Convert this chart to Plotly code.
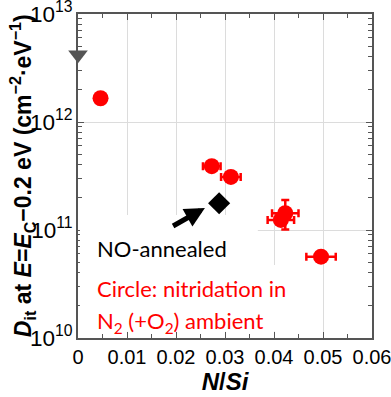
import math
import plotly.graph_objects as go

# Data
circle_x = [0.0046, 0.0273, 0.0312, 0.0423, 0.0414, 0.0496]
circle_y = [1.66e12, 3.9e11, 3.1e11, 1.43e11, 1.24e11, 5.66e10]
circle_xerr = [0.0, 0.0018, 0.002, 0.0027, 0.0027, 0.003]
circle_yerr_plus = [0, 0, 0, 0.47e11, 0, 0]
circle_yerr_minus = [0, 0, 0, 0.42e11, 0, 0]

tri_x = [0.0]
tri_y = [4.2e12]

diamond_x = [0.0288]
diamond_y = [1.77e11]

x_ticks = [0, 0.01, 0.02, 0.03, 0.04, 0.05, 0.06]
x_ticklabels = ["0", "0.01", "0.02", "0.03", "0.04", "0.05", "0.06"]

RED = "#ff0000"
AXC = "#555555"
TFONT = "Liberation Sans"
AFONT = "Lato"

fig = go.Figure()

fig.add_trace(go.Scatter(
    x=circle_x, y=circle_y, mode="markers",
    marker=dict(symbol="circle", size=16, color=RED),
    error_x=dict(type="data", array=circle_xerr, color=RED, thickness=2.5, width=4),
    error_y=dict(type="data", symmetric=False, array=circle_yerr_plus,
                 arrayminus=circle_yerr_minus, color=RED, thickness=2.5, width=4),
    cliponaxis=False, showlegend=False))

fig.add_trace(go.Scatter(
    x=tri_x, y=tri_y, mode="markers",
    marker=dict(symbol="triangle-down", size=17, color="#555555"),
    cliponaxis=False, showlegend=False))

fig.add_trace(go.Scatter(
    x=diamond_x, y=diamond_y, mode="markers",
    marker=dict(symbol="diamond", size=17, color="black"),
    cliponaxis=False, showlegend=False))

# white boxes behind the text (hiding gridlines)
fig.add_shape(type="rect", xref="x", yref="y domain", x0=0.0004, x1=0.0367, y0=0.02, y1=0.38,
              fillcolor="white", line_width=0, layer="above")
fig.add_shape(type="rect", xref="x", yref="y domain", x0=0.0004, x1=0.045, y0=0.02, y1=0.225,
              fillcolor="white", line_width=0, layer="above")

# arrow
fig.add_annotation(x=0.0259, y=math.log10(1.6e11), ax=0.0191, ay=math.log10(1.07e11),
                   xref="x", yref="y", axref="x", ayref="y", text="",
                   showarrow=True, arrowhead=2, arrowsize=0.8, arrowwidth=5,
                   arrowcolor="black", standoff=0)

fig.add_annotation(x=0.0035, y=10.833, xref="x", yref="y", text="NO-annealed",
                   showarrow=False, xanchor="left", yanchor="middle",
                   font=dict(family=AFONT, size=22, color="black"))
fig.add_annotation(x=0.0035, y=10.463, xref="x", yref="y", text="Circle: nitridation in",
                   showarrow=False, xanchor="left", yanchor="middle",
                   font=dict(family=AFONT, size=22, color=RED))
fig.add_annotation(x=0.0035, y=10.148, xref="x", yref="y",
                   text="N<sub>2</sub> (+O<sub>2</sub>) ambient",
                   showarrow=False, xanchor="left", yanchor="middle",
                   font=dict(family=AFONT, size=22, color=RED))

# y axis title as rotated annotation
fig.add_annotation(x=-0.19, y=0.5, xref="paper", yref="paper", textangle=-90,
                   text="<b><i>D</i><sub>it</sub> at <i>E</i>=<i>E</i><sub>C</sub>\u22120.2 eV (cm<sup>\u22122</sup>\u00b7eV<sup>\u22121</sup>)</b>",
                   showarrow=False, xanchor="center", yanchor="middle",
                   font=dict(family=TFONT, size=23, color="black"))

fig.update_layout(
    xaxis=dict(range=[0, 0.06], tickmode="array", tickvals=x_ticks, ticktext=x_ticklabels,
               ticks="inside", ticklen=6, tickcolor=AXC, tickwidth=1.3,
               minor=dict(ticks="inside", ticklen=4, dtick=0.005, tickcolor=AXC,
                          tickwidth=1.2, showgrid=False),
               zeroline=False, automargin=False, ticklabeloverflow="allow",
               showline=True, linecolor=AXC, linewidth=1.5, mirror="allticks",
               showgrid=True, gridcolor="#dcdcdc", gridwidth=1,
               tickfont=dict(family=TFONT, size=20, color="black"),
               title=dict(text="<b><i>N</i>/<i>Si</i></b>",
                          font=dict(family=TFONT, size=24, color="black"), standoff=4)),
    yaxis=dict(type="log", range=[10, 13], dtick=1, exponentformat="power",
               ticks="inside", ticklen=6, tickcolor=AXC, tickwidth=1.3,
               minor=dict(ticks="inside", ticklen=4, dtick="D1", tickcolor=AXC,
                          tickwidth=1.2, showgrid=False),
               zeroline=False, automargin=False, ticklabeloverflow="allow",
               showline=True, linecolor=AXC, linewidth=1.5, mirror="allticks",
               showgrid=True, gridcolor="#dcdcdc", gridwidth=1,
               tickfont=dict(family=TFONT, size=18, color="black")),
    width=391, height=397,
    margin=dict(l=78, r=19, t=14, b=59),
    plot_bgcolor="white", paper_bgcolor="white",
)

fig.write_html("out.html", config={"displayModeBar": False},
               post_script="document.body.style.margin='0';")
